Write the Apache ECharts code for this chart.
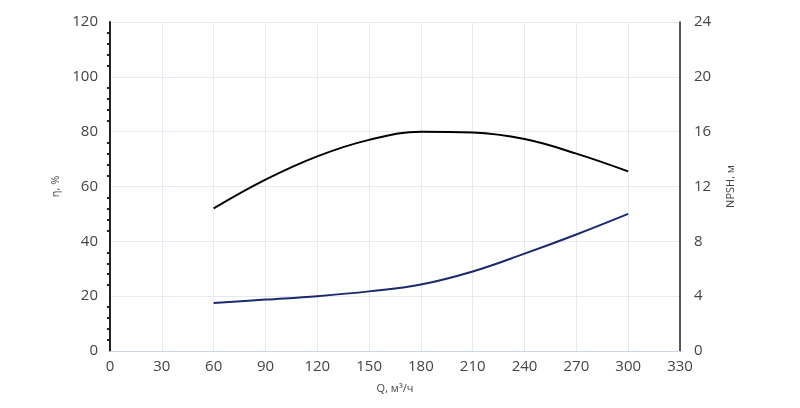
<!DOCTYPE html><html><head><meta charset="utf-8"><script src="https://cdn.jsdelivr.net/npm/echarts@6/dist/echarts.min.js"></script></head><body style="margin:0"><div id="c" style="width:800px;height:408px"></div><script>
const qEff=[60,90,120,150,180,210,240,270,300];
const eff=[52,62.5,71,77,80,79.7,77.3,72,65.5];
const qN=[60,90,120,150,180,210,240,270,300];
const npsh=[3.5,3.75,4.0,4.35,4.85,5.8,7.1,8.5,10.0];
const F='Open Sans';
const ch=echarts.init(document.getElementById('c'));
ch.setOption({animation:false,textStyle:{fontFamily:F},
grid:{left:110,right:120,top:22,bottom:57},
xAxis:{type:'value',min:0,max:330,interval:30,name:'Q, м³/ч',nameLocation:'middle',nameGap:32,nameTextStyle:{color:'#444',fontSize:11,fontFamily:F},
axisLine:{lineStyle:{color:'#ccd6eb'}},axisTick:{show:false},axisLabel:{color:'#444',fontSize:15,fontFamily:F,margin:8},splitLine:{lineStyle:{color:'#e6e9f2'}}},
yAxis:[{type:'value',min:0,max:120,interval:20,name:'η, %',nameLocation:'middle',nameGap:45,nameTextStyle:{color:'#444',fontSize:11,fontFamily:F},
axisLine:{show:true,lineStyle:{color:'#222',width:2}},axisTick:{show:false},minorTick:{show:true,splitNumber:5,length:3,lineStyle:{color:'#222',width:2}},
axisLabel:{color:'#444',fontSize:15,fontFamily:F,margin:12},splitLine:{lineStyle:{color:'#e6e9f2'}}},
{type:'value',min:0,max:24,interval:4,name:'NPSH, м',nameLocation:'middle',nameGap:45,nameTextStyle:{color:'#444',fontSize:11,fontFamily:F},
axisLine:{show:true,lineStyle:{color:'#222',width:1.5}},axisTick:{show:false},axisLabel:{color:'#444',fontSize:15,fontFamily:F,margin:14},splitLine:{show:false}}],
series:[{type:'line',smooth:0.4,symbol:'none',data:qEff.map((q,i)=>[q,eff[i]]),lineStyle:{color:'#000',width:2}},
{type:'line',smooth:0.4,yAxisIndex:1,symbol:'none',data:qN.map((q,i)=>[q,npsh[i]]),lineStyle:{color:'#1a2a6c',width:2}}]});
</script></body></html>
